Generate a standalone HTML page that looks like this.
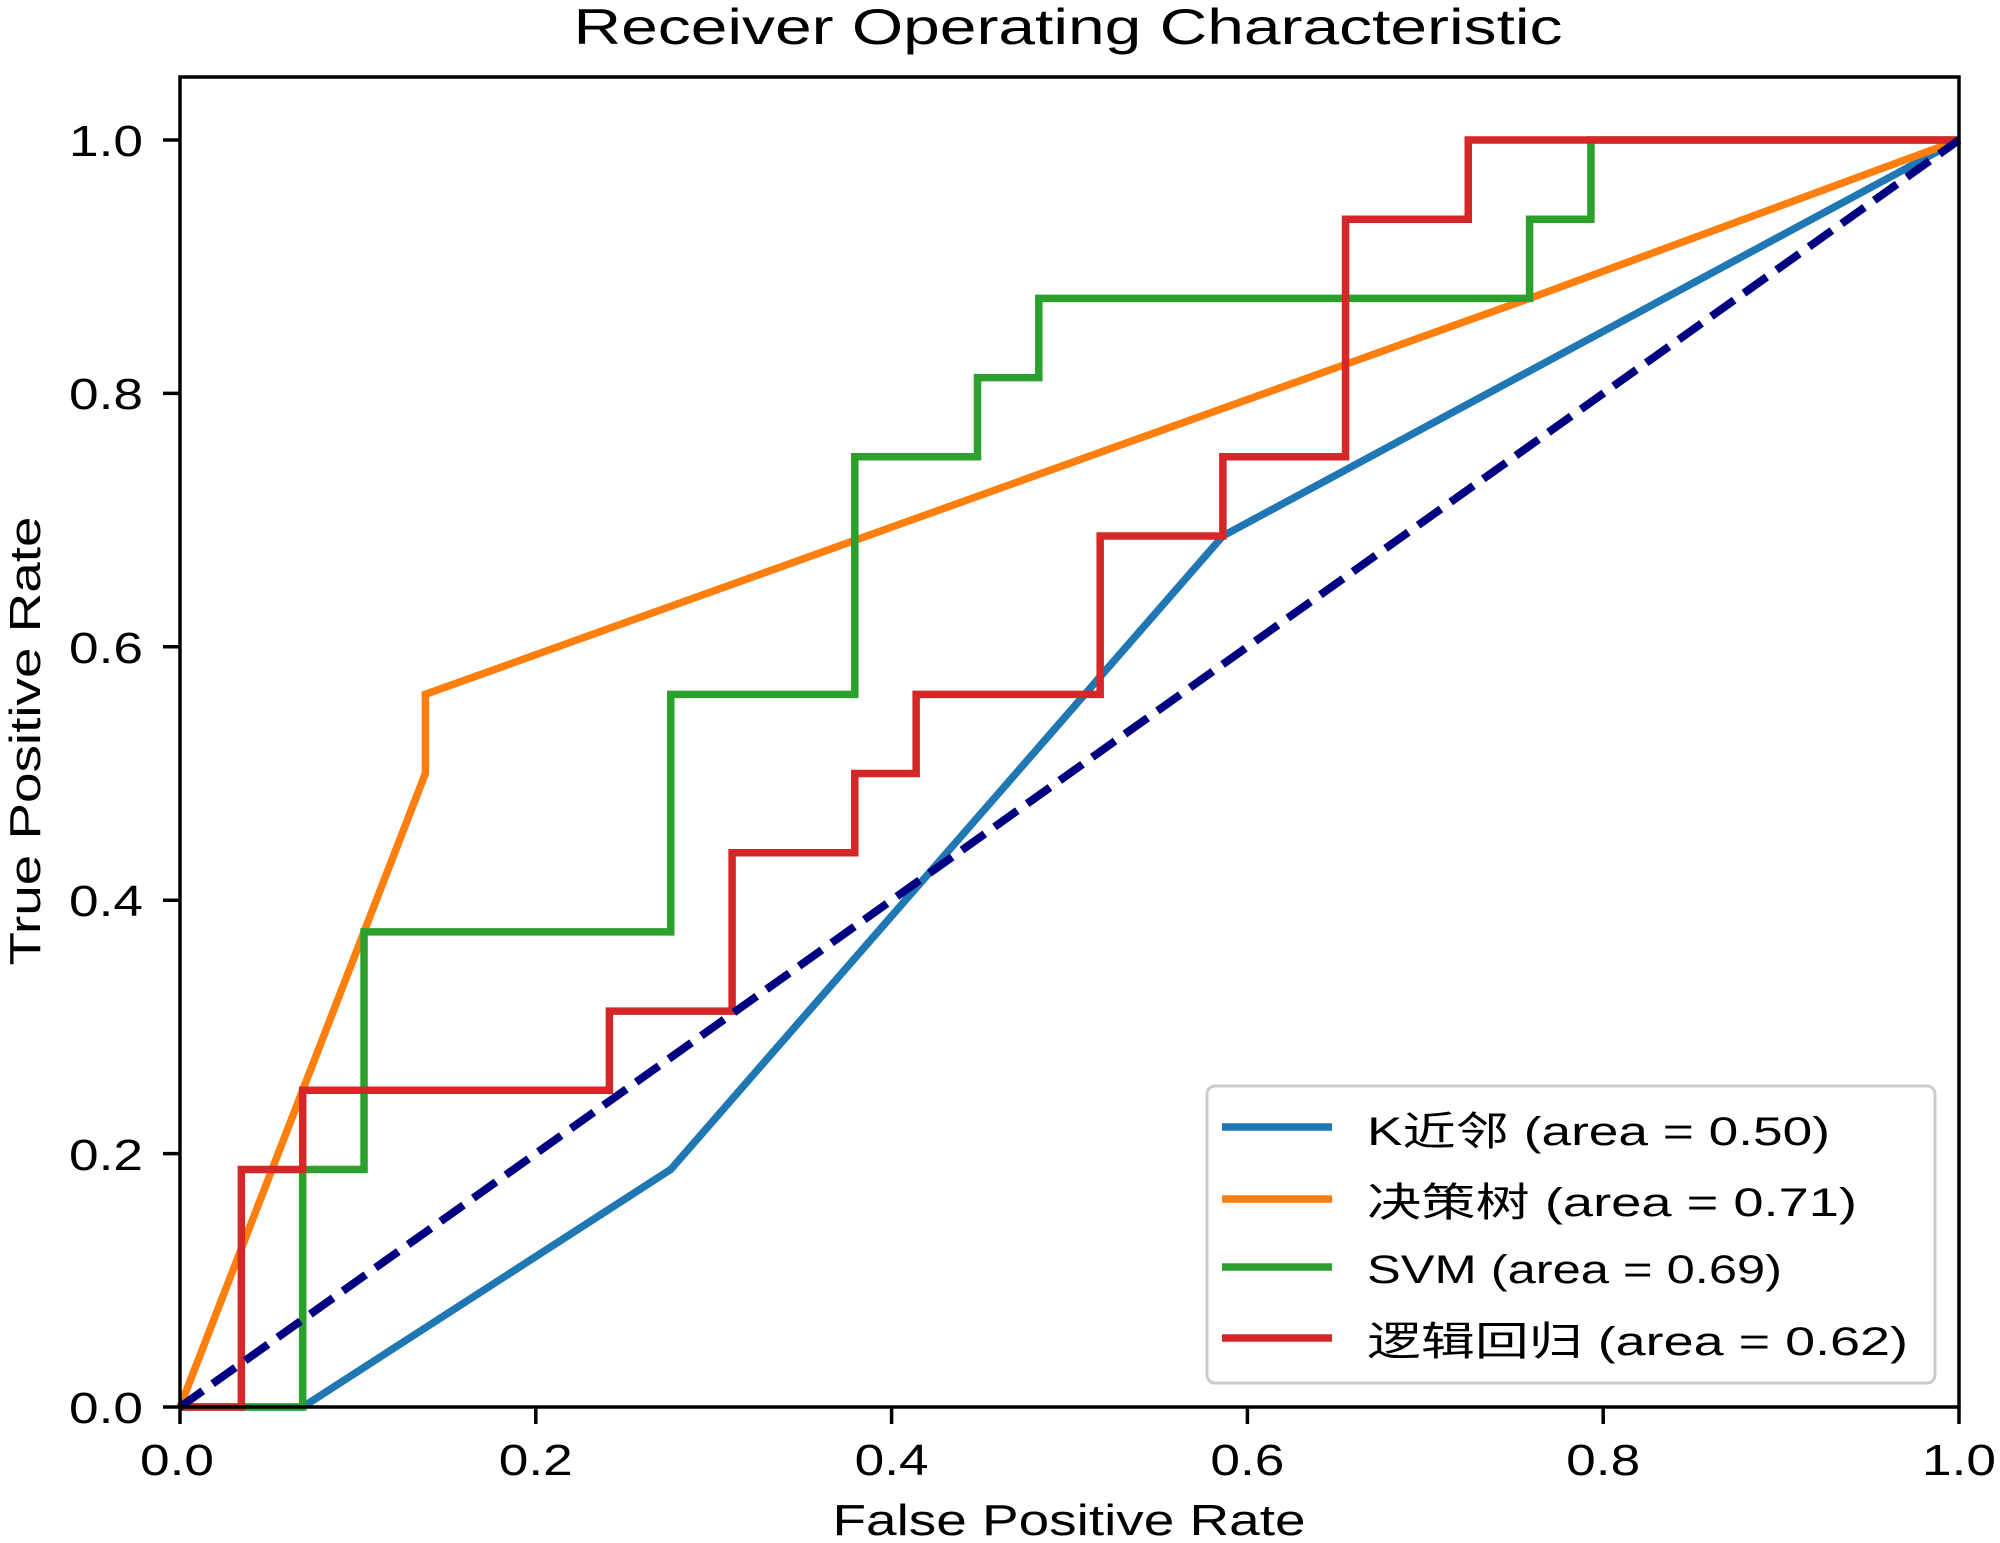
<!DOCTYPE html>
<html><head><meta charset="utf-8"><style>
html,body{margin:0;padding:0;background:#fff;}
svg{display:block;}
text{font-family:"Liberation Sans","Noto Sans CJK SC",sans-serif;fill:#000;}
</style></head><body>
<svg width="2000" height="1543" viewBox="0 0 2000 1543" xmlns="http://www.w3.org/2000/svg">
<rect width="2000" height="1543" fill="#fff"/>
<text x="1068" y="44" font-size="50" text-anchor="middle" textLength="989" lengthAdjust="spacingAndGlyphs">Receiver Operating Characteristic</text>
<g transform="translate(180,1407) scale(61.345,-79.1875)" fill="none" stroke-linejoin="miter" stroke-linecap="butt">
<polyline vector-effect="non-scaling-stroke" stroke="#1f77b4" stroke-width="7.5" points="0,0 2,0 8,3 17,11 29,16"/>
<polyline vector-effect="non-scaling-stroke" stroke="#ff7f0e" stroke-width="7.5" points="0,0 2,4 4,8 4,9 22,14 29,16"/>
<polyline vector-effect="non-scaling-stroke" stroke="#2ca02c" stroke-width="7.5" points="0,0 2,0 2,3 3,3 3,6 8,6 8,9 11,9 11,12 13,12 13,13 14,13 14,14 22,14 22,15 23,15 23,16 29,16"/>
<polyline vector-effect="non-scaling-stroke" stroke="#d62728" stroke-width="7.5" points="0,0 1,0 1,3 2,3 2,4 7,4 7,5 9,5 9,7 11,7 11,8 12,8 12,9 15,9 15,11 17,11 17,12 19,12 19,15 21,15 21,16 29,16"/>
</g>
<line x1="180" y1="1407" x2="1959" y2="140" stroke="navy" stroke-width="8" stroke-dasharray="28,12"/>
<rect x="180" y="77" width="1779" height="1330" fill="none" stroke="#000" stroke-width="3.5"/>
<g stroke="#000" stroke-width="3.5">
<line x1="180" y1="1407" x2="180" y2="1424"/><line x1="535.8" y1="1407" x2="535.8" y2="1424"/><line x1="891.6" y1="1407" x2="891.6" y2="1424"/><line x1="1247.4" y1="1407" x2="1247.4" y2="1424"/><line x1="1603.2" y1="1407" x2="1603.2" y2="1424"/><line x1="1959" y1="1407" x2="1959" y2="1424"/>
<line x1="163" y1="1407" x2="180" y2="1407"/><line x1="163" y1="1153.6" x2="180" y2="1153.6"/><line x1="163" y1="900.2" x2="180" y2="900.2"/><line x1="163" y1="646.8" x2="180" y2="646.8"/><line x1="163" y1="393.4" x2="180" y2="393.4"/><line x1="163" y1="140" x2="180" y2="140"/>
</g>
<g font-size="44" text-anchor="middle">
<text x="177" y="1475" textLength="74" lengthAdjust="spacingAndGlyphs">0.0</text>
<text x="535.8" y="1475" textLength="74" lengthAdjust="spacingAndGlyphs">0.2</text>
<text x="891.6" y="1475" textLength="74" lengthAdjust="spacingAndGlyphs">0.4</text>
<text x="1247.4" y="1475" textLength="74" lengthAdjust="spacingAndGlyphs">0.6</text>
<text x="1603.2" y="1475" textLength="74" lengthAdjust="spacingAndGlyphs">0.8</text>
<text x="1959" y="1475" textLength="74" lengthAdjust="spacingAndGlyphs">1.0</text>
</g>
<g font-size="44" text-anchor="end">
<text x="143" y="1423" textLength="74" lengthAdjust="spacingAndGlyphs">0.0</text>
<text x="143" y="1170" textLength="74" lengthAdjust="spacingAndGlyphs">0.2</text>
<text x="143" y="916" textLength="74" lengthAdjust="spacingAndGlyphs">0.4</text>
<text x="143" y="663" textLength="74" lengthAdjust="spacingAndGlyphs">0.6</text>
<text x="143" y="409" textLength="74" lengthAdjust="spacingAndGlyphs">0.8</text>
<text x="143" y="156" textLength="74" lengthAdjust="spacingAndGlyphs">1.0</text>
</g>
<text x="1069" y="1535" font-size="44" text-anchor="middle" textLength="473" lengthAdjust="spacingAndGlyphs">False Positive Rate</text>
<text transform="translate(40,741) rotate(-90)" font-size="44" text-anchor="middle" textLength="449" lengthAdjust="spacingAndGlyphs">True Positive Rate</text>
<rect x="1207" y="1086" width="728" height="297" rx="8" fill="#fff" fill-opacity="0.8" stroke="#cccccc" stroke-width="3"/>
<g stroke-width="7.5">
<line x1="1222" y1="1127" x2="1332" y2="1127" stroke="#1f77b4"/>
<line x1="1222" y1="1199" x2="1332" y2="1199" stroke="#ff7f0e"/>
<line x1="1222" y1="1267" x2="1332" y2="1267" stroke="#2ca02c"/>
<line x1="1222" y1="1338" x2="1332" y2="1338" stroke="#d62728"/>
</g>
<g font-size="40">
<text x="1367" y="1145" textLength="463" lengthAdjust="spacingAndGlyphs">K近邻 (area = 0.50)</text>
<text x="1367" y="1216" textLength="490" lengthAdjust="spacingAndGlyphs">决策树 (area = 0.71)</text>
<text x="1367" y="1283" textLength="415" lengthAdjust="spacingAndGlyphs">SVM (area = 0.69)</text>
<text x="1367" y="1355" textLength="541" lengthAdjust="spacingAndGlyphs">逻辑回归 (area = 0.62)</text>
</g>
</svg>
</body></html>
